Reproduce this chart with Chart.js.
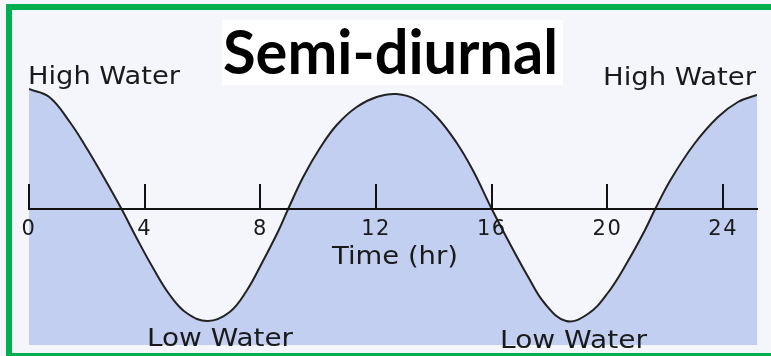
<!DOCTYPE html>
<html>
<head>
<meta charset="utf-8">
<script src="https://cdn.jsdelivr.net/npm/chart.js@4"></script>
<style>
    html, body { margin: 0; padding: 0; }
    body { width: 771px; height: 356px; overflow: hidden; position: relative; background: #f4f6fc; }
    .frame {
        position: absolute; left: 6px; top: 4px;
        width: 900px; height: 343px;
        border: 6px solid #00b050;
    }
    #chart { position: absolute; left: 0; top: 0; }
</style>
</head>
<body>
<div class="frame"></div>
<canvas id="chart" width="771" height="356"></canvas>
<script>
// tide curve (hours, level relative to mean)
const hours = [0, 0.7, 1.41, 1.99, 2.56, 3.2, 3.72, 4.29, 4.87, 5.45, 6.19, 6.94, 7.52, 8.09, 8.62, 8.96,
    9.48, 10.06, 10.64, 11.33, 12.02, 12.71, 13.4, 14.1, 14.79, 15.36, 16.0, 16.65, 17.26, 17.82,
    18.57, 19.32, 20.01, 20.71, 21.28, 21.65, 22.2, 23.0, 23.82, 24.51, 25.17];
const waterLevel = [1.20, 1.12, 0.87, 0.61, 0.33, 0, -0.29, -0.59, -0.86, -1.04, -1.12, -1.03, -0.82, -0.52, -0.22, 0,
    0.32, 0.61, 0.84, 1.02, 1.12, 1.15, 1.09, 0.92, 0.66, 0.38, 0, -0.36, -0.68, -0.94,
    -1.12, -1.05, -0.84, -0.52, -0.22, 0, 0.30, 0.65, 0.92, 1.07, 1.14];

const tickHours = [0, 4, 8, 12, 16, 20, 24];
const tickLabels = ["0", "4", "8", "12", "16", "20", "24"];

const chartTitle = "Semi-diurnal";
const axisTitle = "Time (hr)";
const highLabel = "High Water";
const lowLabel = "Low Water";

const labelFont = "24px 'DejaVu Sans'";

// draw text squeezed/stretched to a given width
function fitText(ctx, text, x, y, width) {
    const w = ctx.measureText(text).width;
    ctx.save();
    ctx.translate(x, y);
    ctx.scale(width / w, 1);
    ctx.fillText(text, 0, 0);
    ctx.restore();
}

const tidePlugin = {
    id: "tideDecor",
    afterDatasetsDraw(chart) {
        chart.ctx.letterSpacing = "1.5px";
    },
    afterDraw(chart) {
        const { ctx, scales } = chart;
        ctx.letterSpacing = "0px";
        const xs = scales.x;
        const y0 = scales.y.getPixelForValue(0);

        // tick marks standing up from the axis
        ctx.save();
        ctx.strokeStyle = "#111";
        ctx.lineWidth = 2;
        tickHours.forEach(h => {
            const px = Math.round(xs.getPixelForValue(h));
            ctx.beginPath();
            ctx.moveTo(px, y0 - 25);
            ctx.lineTo(px, y0);
            ctx.stroke();
        });
        ctx.restore();

        ctx.save();
        ctx.fillStyle = "#1a1a1a";
        ctx.textBaseline = "alphabetic";
        ctx.font = labelFont;
        fitText(ctx, highLabel, 28, 84, 152);
        fitText(ctx, highLabel, 603, 85, 153);
        fitText(ctx, lowLabel, 147, 346, 146);
        fitText(ctx, lowLabel, 500, 348, 147);
        fitText(ctx, axisTitle, 332, 264, 126);

        // title on white box
        ctx.fillStyle = "#ffffff";
        ctx.fillRect(222, 20, 341, 65);
        ctx.fillStyle = "#000000";
        ctx.font = "bold 61px Lato, 'Open Sans', sans-serif";
        fitText(ctx, chartTitle, 223, 74, 335);
        ctx.restore();
    }
};

Chart.register(tidePlugin);

new Chart(document.getElementById("chart"), {
    type: "line",
    data: {
        datasets: [{
            data: hours.map((h, i) => ({ x: h, y: waterLevel[i] })),
            borderColor: "#222222",
            borderWidth: 2,
            backgroundColor: "#c2cff0",
            fill: "start",
            pointRadius: 0,
            tension: 0.4
        }]
    },
    options: {
        responsive: false,
        animation: false,
        devicePixelRatio: 1,
        layout: { padding: { left: 29, right: 14, top: 69, bottom: 11 } },
        plugins: {
            legend: { display: false },
            tooltip: { enabled: false }
        },
        scales: {
            x: {
                type: "linear",
                min: 0,
                max: 25.17,
                position: { y: 0 },
                afterFit(scale) { scale.height = 0; },
                afterBuildTicks(scale) {
                    scale.ticks = tickHours.map(v => ({ value: v }));
                },
                grid: { drawOnChartArea: false, drawTicks: false },
                border: { display: true, color: "#111", width: 2, z: 1 },
                ticks: {
                    z: 1,
                    padding: 8,
                    maxRotation: 0,
                    autoSkip: false,
                    color: "#1a1a1a",
                    font: { family: "DejaVu Sans", size: 21 },
                    callback: (v) => {
                        const i = tickHours.indexOf(v);
                        return i >= 0 ? tickLabels[i] : "";
                    }
                }
            },
            y: {
                display: false,
                min: -1.36,
                max: 1.40
            }
        }
    }
});
</script>
</body>
</html>
